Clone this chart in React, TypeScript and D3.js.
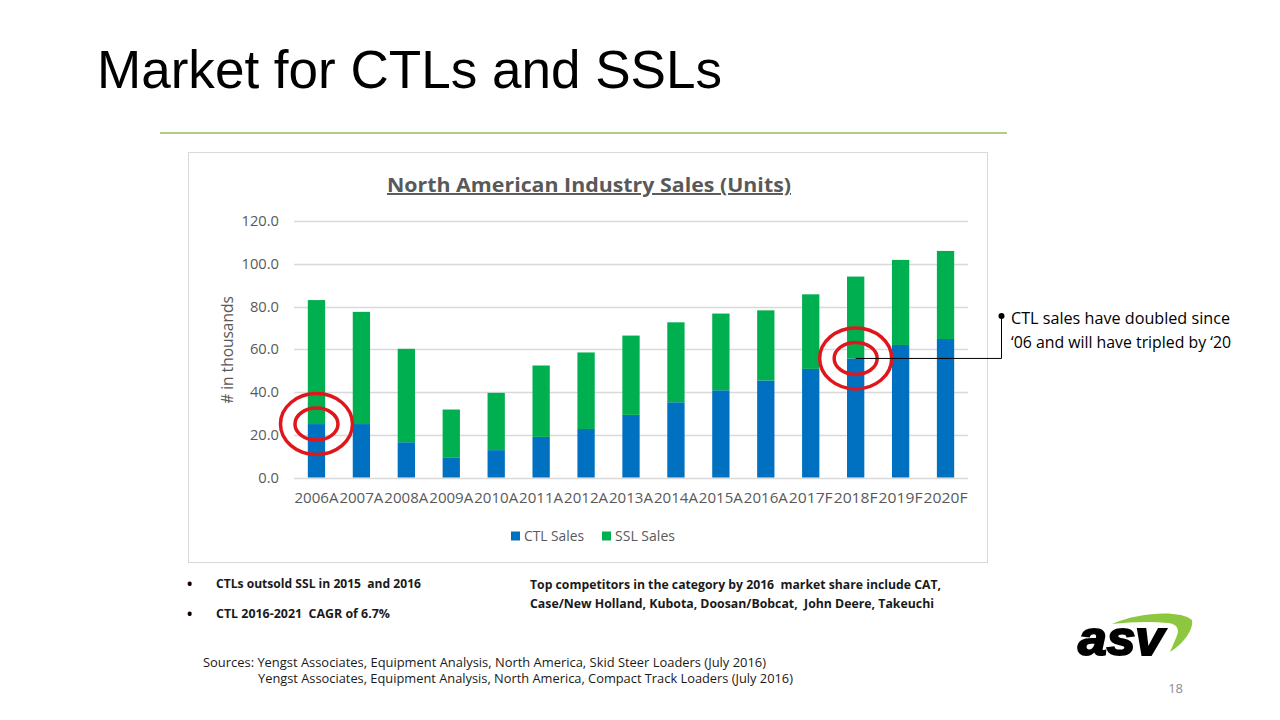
import { useRef, useEffect } from 'react';
import * as d3 from 'd3';

// Categorías (años; A = real, F = pronóstico)
const CATEGORIES = [
  '2006A', '2007A', '2008A', '2009A', '2010A', '2011A', '2012A', '2013A',
  '2014A', '2015A', '2016A', '2017F', '2018F', '2019F', '2020F'
];

// Valores en miles de unidades
const CTL_SALES = [25, 25, 16.5, 9.2, 12.8, 19, 22.7, 29.3, 35.2, 40.8, 45.4, 50.8, 55.7, 62, 64.8];
const SSL_SALES = [58, 52.5, 43.7, 22.6, 26.8, 33.4, 35.8, 37.1, 37.4, 35.9, 32.8, 34.9, 38.3, 39.8, 41.2];

const Y_TICKS = [0, 20, 40, 60, 80, 100, 120];
const SERIES = ['CTL Sales', 'SSL Sales'];
const HIGHLIGHTS = ['2006A', '2018F'];

const COLORS: Record<string, string> = {
  'CTL Sales': '#0070C0',
  'SSL Sales': '#00B050'
};

const FONT = "'Open Sans', 'Noto Sans', sans-serif";

export default function App() {
  const ref = useRef<SVGSVGElement>(null);

  useEffect(() => {
    if (!ref.current) return;
    const svg = d3.select(ref.current);
    svg.selectAll('*').remove();

    svg.append('rect').attr('width', 1280).attr('height', 720).attr('fill', '#fff');

    // Título de la diapositiva
    svg.append('text')
      .attr('x', 97).attr('y', 88)
      .attr('font-family', "'Liberation Sans', Arial, sans-serif")
      .attr('font-size', 54)
      .attr('fill', '#000')
      .attr('textLength', 625)
      .attr('lengthAdjust', 'spacingAndGlyphs')
      .text('Market for CTLs and SSLs');

    svg.append('line')
      .attr('x1', 160).attr('x2', 1007).attr('y1', 133).attr('y2', 133)
      .attr('stroke', '#9BBB59').attr('stroke-width', 1.5);

    // Marco del gráfico
    svg.append('rect')
      .attr('x', 188.5).attr('y', 152.5).attr('width', 799).attr('height', 410)
      .attr('fill', '#fff').attr('stroke', '#D9D9D9');

    svg.append('text')
      .attr('x', 589).attr('y', 192)
      .attr('text-anchor', 'middle')
      .attr('font-family', FONT)
      .attr('font-weight', 700)
      .attr('font-size', 19.5)
      .attr('fill', '#595959')
      .attr('textLength', 404)
      .attr('lengthAdjust', 'spacingAndGlyphs')
      .attr('style', 'text-decoration: underline')
      .text('North American Industry Sales (Units)');

    const x = d3.scaleBand<string>()
      .domain(CATEGORIES)
      .range([294, 968])
      .paddingInner(0.615)
      .paddingOuter(0.3075);

    const y = d3.scaleLinear().domain([0, 120]).range([477.5, 221]);

    // Rejilla y etiquetas del eje Y
    const grid = svg.append('g');
    grid.selectAll('line')
      .data(Y_TICKS)
      .join('line')
      .attr('x1', 294).attr('x2', 968)
      .attr('y1', (d) => Math.round(y(d)) + 0.5)
      .attr('y2', (d) => Math.round(y(d)) + 0.5)
      .attr('stroke', '#D9D9D9').attr('stroke-width', 1.5);

    grid.selectAll('text')
      .data(Y_TICKS)
      .join('text')
      .attr('x', 279)
      .attr('y', (d) => y(d))
      .attr('dy', '0.35em')
      .attr('text-anchor', 'end')
      .attr('font-family', FONT)
      .attr('font-size', 14.7)
      .attr('fill', '#595959')
      .text((d) => d3.format('.1f')(d));

    svg.append('text')
      .attr('transform', `translate(233,350) rotate(-90)`)
      .attr('text-anchor', 'middle')
      .attr('font-family', FONT)
      .attr('font-size', 15.5)
      .attr('fill', '#595959')
      .text('# in thousands');

    // Barras apiladas
    const rows = CATEGORIES.map((c, i) => ({
      category: c,
      'CTL Sales': CTL_SALES[i],
      'SSL Sales': SSL_SALES[i]
    }));
    // eslint-disable-next-line @typescript-eslint/no-explicit-any
    const stacked = d3.stack<any>().keys(SERIES)(rows);

    svg.append('g')
      .selectAll('g')
      .data(stacked)
      .join('g')
      .attr('fill', (s) => COLORS[s.key])
      .selectAll('rect')
      .data((s) => s)
      .join('rect')
      .attr('x', (d) => x(d.data.category) ?? 0)
      .attr('width', x.bandwidth())
      .attr('y', (d) => y(d[1]))
      .attr('height', (d) => y(d[0]) - y(d[1]));

    // Etiquetas del eje X
    svg.append('g')
      .selectAll('text')
      .data(CATEGORIES)
      .join('text')
      .attr('x', (d) => (x(d) ?? 0) + x.bandwidth() / 2)
      .attr('y', 498)
      .attr('dy', '0.35em')
      .attr('text-anchor', 'middle')
      .attr('font-family', FONT)
      .attr('font-size', 15)
      .attr('fill', '#595959')
      .attr('textLength', 44)
      .attr('lengthAdjust', 'spacingAndGlyphs')
      .text((d) => d);

    // Leyenda
    const legendX = [511, 602];
    const legend = svg.append('g')
      .selectAll('g')
      .data(SERIES)
      .join('g')
      .attr('transform', (_d, i) => `translate(${legendX[i]},536)`);
    legend.append('rect')
      .attr('x', 0).attr('y', -4.5).attr('width', 9).attr('height', 9)
      .attr('fill', (d) => COLORS[d]);
    legend.append('text')
      .attr('x', 13).attr('dy', '0.35em')
      .attr('font-family', FONT)
      .attr('font-size', 14.5)
      .attr('fill', '#595959')
      .attr('textLength', 60)
      .attr('lengthAdjust', 'spacingAndGlyphs')
      .text((d) => d);

    // Círculos rojos sobre la cima de CTL
    const hl = svg.append('g')
      .selectAll('g')
      .data(HIGHLIGHTS)
      .join('g')
      .attr('transform', (d) => {
        const i = CATEGORIES.indexOf(d);
        return `translate(${(x(d) ?? 0) + x.bandwidth() / 2},${y(CTL_SALES[i])})`;
      });
    hl.append('ellipse').attr('rx', 36).attr('ry', 30.5)
      .attr('fill', 'none').attr('stroke', '#E0161D').attr('stroke-width', 3.5);
    hl.append('ellipse').attr('rx', 21.5).attr('ry', 16)
      .attr('fill', 'none').attr('stroke', '#E0161D').attr('stroke-width', 3.5);

    // Conector de la nota
    const i18 = CATEGORIES.indexOf('2018F');
    const cx18 = (x('2018F') ?? 0) + x.bandwidth() / 2;
    const cy18 = y(CTL_SALES[i18]);
    svg.append('path')
      .attr('d', `M${cx18},${cy18}H1001.5V316`)
      .attr('fill', 'none').attr('stroke', '#000').attr('stroke-width', 1);
    svg.append('circle').attr('cx', 1001.5).attr('cy', 316).attr('r', 3).attr('fill', '#000');

    const note = svg.append('text')
      .attr('font-family', FONT)
      .attr('font-size', 16.5)
      .attr('fill', '#000');
    note.append('tspan').attr('x', 1011).attr('y', 324)
      .attr('textLength', 219).attr('lengthAdjust', 'spacingAndGlyphs')
      .text('CTL sales have doubled since');
    note.append('tspan').attr('x', 1011).attr('y', 348)
      .attr('textLength', 220).attr('lengthAdjust', 'spacingAndGlyphs')
      .text('\u201806 and will have tripled by \u201820');

    // Textos inferiores
    const bold = (tx: number, ty: number, w: number, s: string) =>
      svg.append('text')
        .attr('x', tx).attr('y', ty)
        .attr('font-family', FONT)
        .attr('font-weight', 700)
        .attr('font-size', 12.5)
        .attr('fill', '#1a1a1a')
        .attr('textLength', w)
        .attr('lengthAdjust', 'spacingAndGlyphs')
        .attr('style', 'white-space: pre')
        .text(s);

    svg.append('text').attr('x', 187).attr('y', 589).attr('font-family', FONT)
      .attr('font-weight', 700).attr('font-size', 14).text('\u2022');
    svg.append('text').attr('x', 187).attr('y', 619).attr('font-family', FONT)
      .attr('font-weight', 700).attr('font-size', 14).text('\u2022');
    bold(216, 588, 205, 'CTLs outsold SSL in 2015  and 2016');
    bold(216, 618, 174, 'CTL 2016-2021  CAGR of 6.7%');
    bold(530, 589, 411, 'Top competitors in the category by 2016  market share include CAT,');
    bold(530, 608, 404, 'Case/New Holland, Kubota, Doosan/Bobcat,  John Deere, Takeuchi');

    const reg = (tx: number, ty: number, w: number, s: string) =>
      svg.append('text')
        .attr('x', tx).attr('y', ty)
        .attr('font-family', FONT)
        .attr('font-size', 12.5)
        .attr('fill', '#1a1a1a')
        .attr('textLength', w)
        .attr('lengthAdjust', 'spacingAndGlyphs')
        .text(s);
    reg(203, 667, 563, 'Sources: Yengst Associates, Equipment Analysis, North America, Skid Steer Loaders (July 2016)');
    reg(258, 683, 535, 'Yengst Associates, Equipment Analysis, North America, Compact Track Loaders (July 2016)');

    // Número de página
    svg.append('text')
      .attr('x', 1183).attr('y', 693)
      .attr('text-anchor', 'end')
      .attr('font-family', FONT)
      .attr('font-size', 13)
      .attr('fill', '#8c8c8c')
      .text('18');

    // Logotipo ASV
    svg.append('path')
      .attr('d', 'M1112,624 C1140,612 1180,610 1192,620 C1194,630 1182,645 1170,652 L1176,638 C1180,630 1178,624 1168,623 C1150,621 1130,622 1112,624 Z')
      .attr('fill', '#8DC63F');
    svg.append('text')
      .attr('x', 1078).attr('y', 655)
      .attr('font-family', "'Liberation Sans', Arial, sans-serif")
      .attr('font-weight', 900)
      .attr('font-style', 'italic')
      .attr('font-size', 48)
      .attr('fill', '#000')
      .attr('stroke', '#000')
      .attr('stroke-width', 2)
      .attr('textLength', 86)
      .attr('lengthAdjust', 'spacingAndGlyphs')
      .text('asv');
  }, []);

  return (
    <svg
      ref={ref}
      width={1280}
      height={720}
      style={{ position: 'absolute', left: 0, top: 0, display: 'block' }}
    ></svg>
  );
}
